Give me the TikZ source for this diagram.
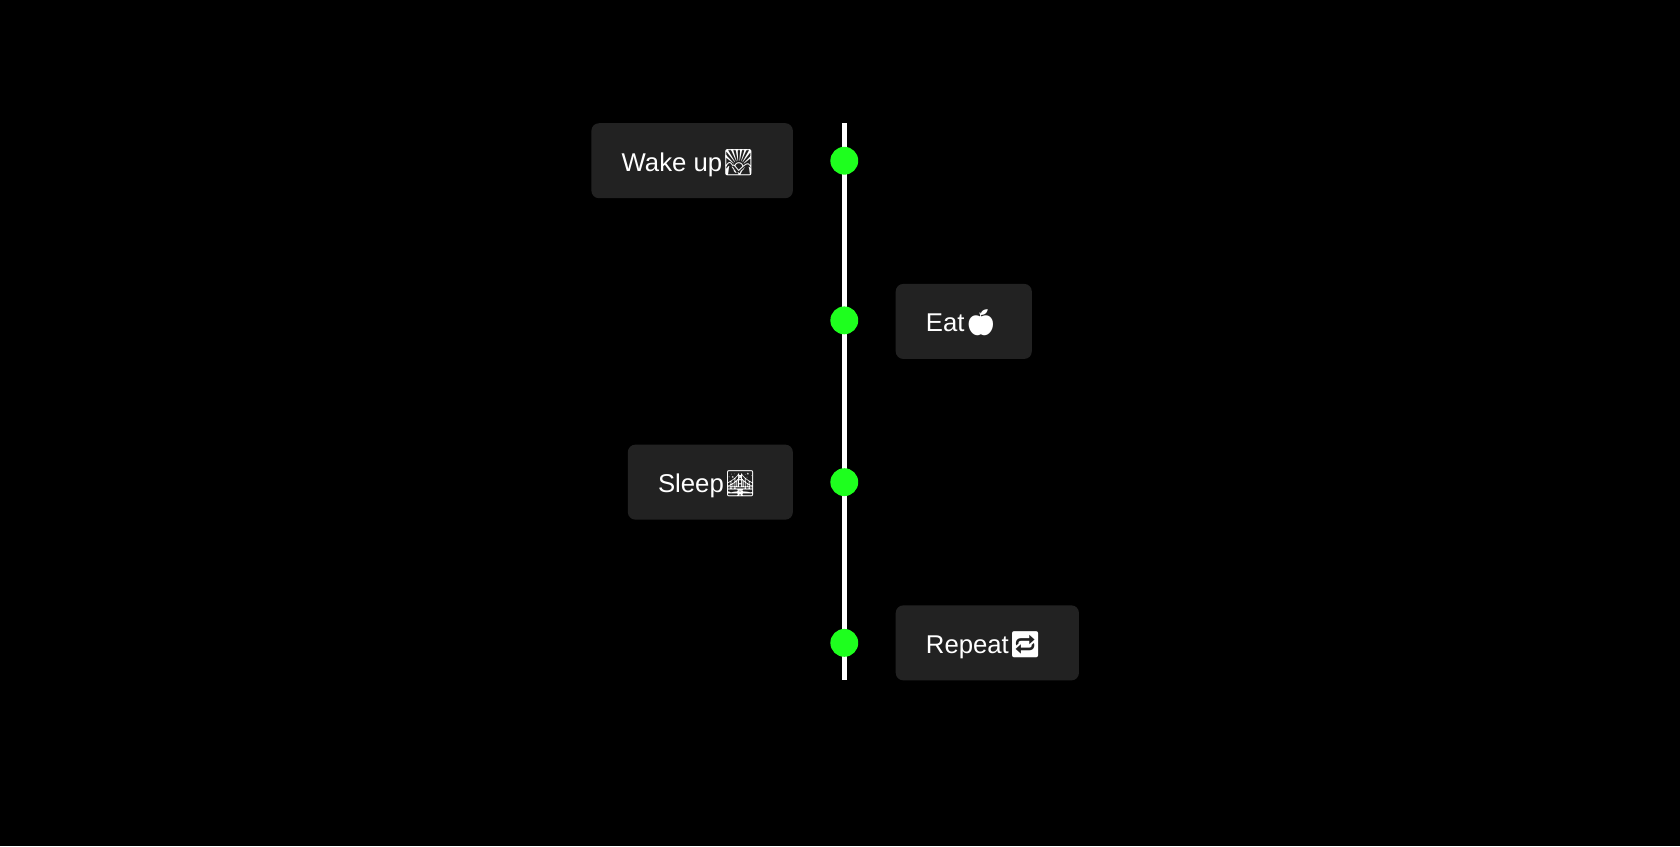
\documentclass[tikz,border=0pt]{standalone}
\usepackage{fontspec}
\setmainfont{Liberation Sans}
\newfontfamily\emo{Noto Emoji}
\definecolor{boxgray}{HTML}{222222}
\definecolor{dotgreen}{HTML}{1EFF1E}
\begin{document}
\begin{tikzpicture}[x=1pt,y=-1pt,
  lbl/.style={text=white,font=\fontsize{24}{27}\selectfont,anchor=west,inner sep=0pt},
  dot/.style={circle,fill=dotgreen,minimum size=26pt,inner sep=0pt}]
\fill[black] (0,0) rectangle (1568,790);
\useasboundingbox (0,0) rectangle (1568,790);
\coordinate (top) at (788,115);
\coordinate (bot) at (788,635);
\draw[white,line width=5pt] (top) -- (bot);
\node[dot] (d1) at (788,150) {};
\node[dot] (d2) at (788,299) {};
\node[dot] (d3) at (788,450) {};
\node[dot] (d4) at (788,600) {};
\fill[boxgray,rounded corners=7pt] (552,115) rectangle (740,185);
\node[lbl] (t1) at (580,152) {Wake up{\emo 🌄}};
\fill[boxgray,rounded corners=7pt] (836,265) rectangle (963,335);
\node[lbl] (t2) at (864,301) {Eat{\emo 🍎}};
\fill[boxgray,rounded corners=7pt] (586,415) rectangle (740,485);
\node[lbl] (t3) at (614,452) {Sleep{\emo 🌉}};
\fill[boxgray,rounded corners=7pt] (836,565) rectangle (1007,635);
\node[lbl] (t4) at (864,602) {Repeat{\emo 🔁}};
\end{tikzpicture}
\end{document}
